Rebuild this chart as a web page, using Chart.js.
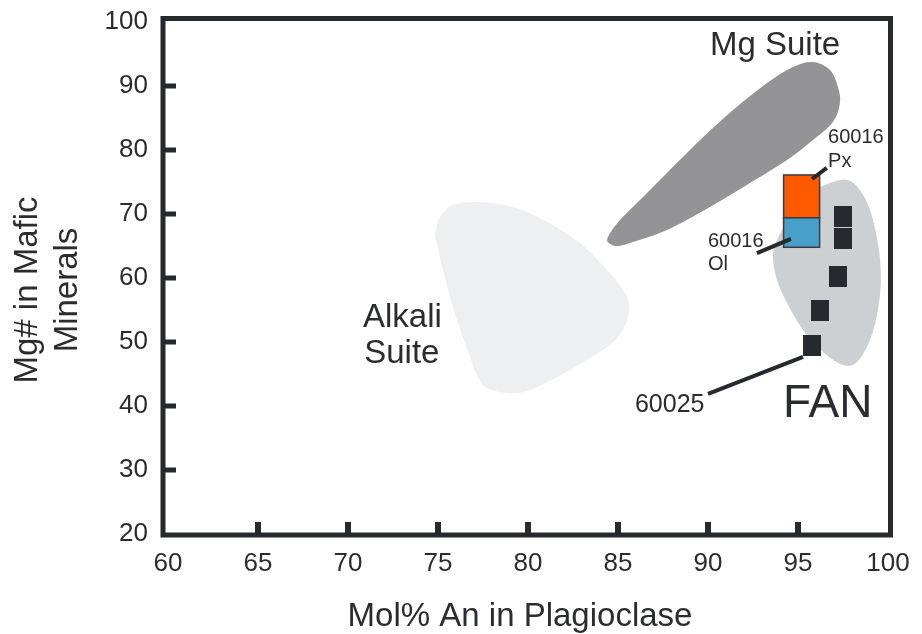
<!DOCTYPE html>
<html>
<head>
<meta charset="utf-8">
<script src="https://cdn.jsdelivr.net/npm/chart.js@4.4.1/dist/chart.umd.min.js"></script>
<style>
  body { margin: 0; background: #fff; }
  #wrap { width: 922px; height: 634px; position: relative; }
</style>
</head>
<body>
<div id="wrap"><canvas id="plot"></canvas></div>
<script>
// FAN samples (black squares)
var fanAn = [95.8, 96.2, 97.2, 97.5, 97.5];
var fanMg = [49.5, 55.0, 60.2, 66.2, 69.6];

// 60016 pyroxene and olivine ranges
var pxAn = [94.2, 96.2];
var pxMg = [69.4, 76.1];
var olAn = [94.2, 96.2];
var olMg = [64.8, 69.4];

// field outlines
var mgSuiteAn = [84.44, 85.11, 86.22, 87.72, 89.56, 91.39, 93.28, 94.72, 95.83, 96.78, 97.22, 97.33, 96.94, 95.83, 94.39, 92.33, 90.11, 87.72, 85.83, 84.94, 84.5];
var mgSuiteMg = [66.41, 69.06, 72.19, 76.41, 81.56, 86.25, 90.47, 92.97, 93.75, 92.5, 89.84, 87.34, 84.38, 81.56, 78.44, 74.84, 71.09, 67.5, 65.63, 65.0, 65.47];
var alkaliAn = [74.89, 75.56, 76.11, 76.78, 77.22, 77.72, 78.83, 80.11, 82.33, 84.39, 85.28, 85.61, 85.39, 84.39, 82.89, 81.06, 79.17, 77.17, 75.83, 75.11, 74.89];
var alkaliMg = [65.94, 58.13, 52.97, 47.66, 44.53, 42.81, 42.03, 42.5, 45.63, 49.22, 51.88, 55.0, 57.66, 61.25, 65.47, 68.75, 71.09, 71.88, 71.41, 69.53, 67.5];
var fanFieldAn = [97.78, 96.94, 95.67, 94.56, 93.83, 93.61, 93.83, 94.39, 95.28, 96.39, 97.5, 98.28, 99.0, 99.44, 99.61, 99.44, 99.0, 98.44];
var fanFieldMg = [75.31, 75.0, 73.28, 69.53, 65.94, 63.28, 59.69, 56.09, 51.88, 48.44, 46.41, 46.88, 50.31, 55.0, 60.16, 65.47, 70.63, 73.75];

// axis ticks
var xTicks = [60, 65, 70, 75, 80, 85, 90, 95, 100];
var yTicks = [20, 30, 40, 50, 60, 70, 80, 90, 100];

var ink = '#26292d';
var font = '"Liberation Sans", Arial, sans-serif';

// square marker
var sq = document.createElement('canvas');
sq.width = 18; sq.height = 21;
var sqc = sq.getContext('2d');
sqc.fillStyle = ink;
sqc.fillRect(0, 0, 18, 21);

function pts(chart, xs, ys) {
    var out = [];
    for (var i = 0; i < xs.length; i++) {
        out.push([chart.scales.x.getPixelForValue(xs[i]), chart.scales.y.getPixelForValue(ys[i])]);
    }
    return out;
}

// closed smooth outline through the points
function blob(ctx, p, color) {
    var n = p.length, t = 1 / 6;
    ctx.beginPath();
    ctx.moveTo(p[0][0], p[0][1]);
    for (var i = 0; i < n; i++) {
        var p0 = p[(i - 1 + n) % n], p1 = p[i], p2 = p[(i + 1) % n], p3 = p[(i + 2) % n];
        ctx.bezierCurveTo(p1[0] + (p2[0] - p0[0]) * t, p1[1] + (p2[1] - p0[1]) * t,
                          p2[0] - (p3[0] - p1[0]) * t, p2[1] - (p3[1] - p1[1]) * t,
                          p2[0], p2[1]);
    }
    ctx.closePath();
    ctx.fillStyle = color;
    ctx.fill();
}

function box(chart, xs, ys, color) {
    var x = chart.scales.x, y = chart.scales.y, ctx = chart.ctx;
    var l = x.getPixelForValue(xs[0]), r = x.getPixelForValue(xs[1]);
    var t = y.getPixelForValue(ys[1]), b = y.getPixelForValue(ys[0]);
    ctx.fillStyle = color;
    ctx.fillRect(l, t, r - l, b - t);
    ctx.strokeStyle = '#3a3c40';
    ctx.lineWidth = 1.5;
    ctx.strokeRect(l, t, r - l, b - t);
}

function leader(chart, x0, y0, x1, y1) {
    var x = chart.scales.x, y = chart.scales.y, ctx = chart.ctx;
    ctx.beginPath();
    ctx.moveTo(x.getPixelForValue(x0), y.getPixelForValue(y0));
    ctx.lineTo(x.getPixelForValue(x1), y.getPixelForValue(y1));
    ctx.strokeStyle = ink;
    ctx.lineWidth = 4;
    ctx.stroke();
}

function label(chart, text, xv, yv, size) {
    var ctx = chart.ctx;
    ctx.fillStyle = '#2b2c2f';
    ctx.font = size + 'px ' + font;
    ctx.textAlign = 'left';
    ctx.textBaseline = 'alphabetic';
    ctx.fillText(text, chart.scales.x.getPixelForValue(xv), chart.scales.y.getPixelForValue(yv));
}

var drawExtras = {
    id: 'drawExtras',
    beforeDatasetsDraw: function(chart) {
        var ctx = chart.ctx;
        ctx.save();
        blob(ctx, pts(chart, alkaliAn, alkaliMg), '#eeeff0');
        blob(ctx, pts(chart, mgSuiteAn, mgSuiteMg), '#949496');
        blob(ctx, pts(chart, fanFieldAn, fanFieldMg), '#cdd0d3');
        box(chart, pxAn, pxMg, '#ff5a00');
        box(chart, olAn, olMg, '#479fca');
        ctx.restore();
    },
    afterDatasetsDraw: function(chart) {
        var ctx = chart.ctx, a = chart.chartArea;
        var x = chart.scales.x, y = chart.scales.y;
        ctx.save();
        leader(chart, 95.78, 75.47, 96.6, 77.2);
        leader(chart, 92.72, 63.9, 94.61, 66.1);
        leader(chart, 90.0, 41.9, 95.28, 47.66);

        label(chart, '60016', 96.67, 81.1, 20);
        label(chart, 'Px', 96.67, 77.3, 20);
        label(chart, '60016', 90.0, 64.8, 20);
        label(chart, 'Ol', 90.0, 61.25, 20);
        label(chart, '60025', 85.94, 39.1, 25);
        label(chart, 'FAN', 94.17, 38.3, 46);
        label(chart, 'Mg Suite', 90.11, 94.84, 33);
        label(chart, 'Alkali', 70.83, 52.3, 33);
        label(chart, 'Suite', 70.9, 46.7, 33);

        // frame
        var L = a.left - 5, T = a.top - 3.5, R = a.right + 2.5, B = a.bottom + 1;
        ctx.strokeStyle = ink;
        ctx.lineWidth = 5;
        ctx.lineJoin = 'miter';
        ctx.strokeRect(L, T, R - L, B - T);

        // inward ticks
        ctx.fillStyle = ink;
        xTicks.forEach(function(v) {
            if (v === 60 || v === 100) return;
            var px = x.getPixelForValue(v);
            ctx.fillRect(px - 3, B - 13, 6, 13);
        });
        yTicks.forEach(function(v) {
            if (v === 20 || v === 100) return;
            var py = y.getPixelForValue(v);
            ctx.fillRect(L, py - 2.5, 13, 5);
        });

        // axis titles
        ctx.fillStyle = '#2b2c2f';
        ctx.font = '33px ' + font;
        ctx.textAlign = 'center';
        ctx.textBaseline = 'alphabetic';
        ctx.fillText('Mol% An in Plagioclase', 520, 626);
        ctx.translate(0, 290);
        ctx.rotate(-Math.PI / 2);
        ctx.fillText('Mg# in Mafic', 0, 37);
        ctx.fillText('Minerals', 0, 77);
        ctx.restore();
    }
};

var ctx = document.getElementById('plot').getContext('2d');
window.plotChart = new Chart(ctx, {
    type: 'scatter',
    data: {
        datasets: [{
            label: 'FAN',
            data: fanAn.map(function(v, i) { return { x: v, y: fanMg[i] }; }),
            pointStyle: sq,
            pointRadius: 10,
            pointHoverRadius: 10
        }]
    },
    options: {
        responsive: true,
        maintainAspectRatio: false,
        animation: false,
        events: [],
        layout: { padding: { top: 22, right: 34, left: 0, bottom: 0 } },
        plugins: { legend: { display: false }, tooltip: { enabled: false } },
        scales: {
            x: {
                type: 'linear',
                min: 60, max: 100,
                afterFit: function(s) { s.height = 100; s.paddingLeft = 0; s.paddingRight = 0; },
                afterBuildTicks: function(s) { s.ticks = xTicks.map(function(v) { return { value: v }; }); },
                grid: { display: false, drawTicks: false },
                border: { display: false },
                ticks: { padding: 14, color: '#2b2c2f', font: { size: 26, family: font } }
            },
            y: {
                type: 'linear',
                min: 20, max: 100,
                afterFit: function(s) { s.width = 168; s.paddingTop = 0; s.paddingBottom = 0; },
                afterBuildTicks: function(s) { s.ticks = yTicks.map(function(v) { return { value: v }; }); },
                grid: { display: false, drawTicks: false },
                border: { display: false },
                ticks: { padding: 20, color: '#2b2c2f', font: { size: 26, family: font } }
            }
        }
    },
    plugins: [drawExtras]
});
</script>
</body>
</html>
